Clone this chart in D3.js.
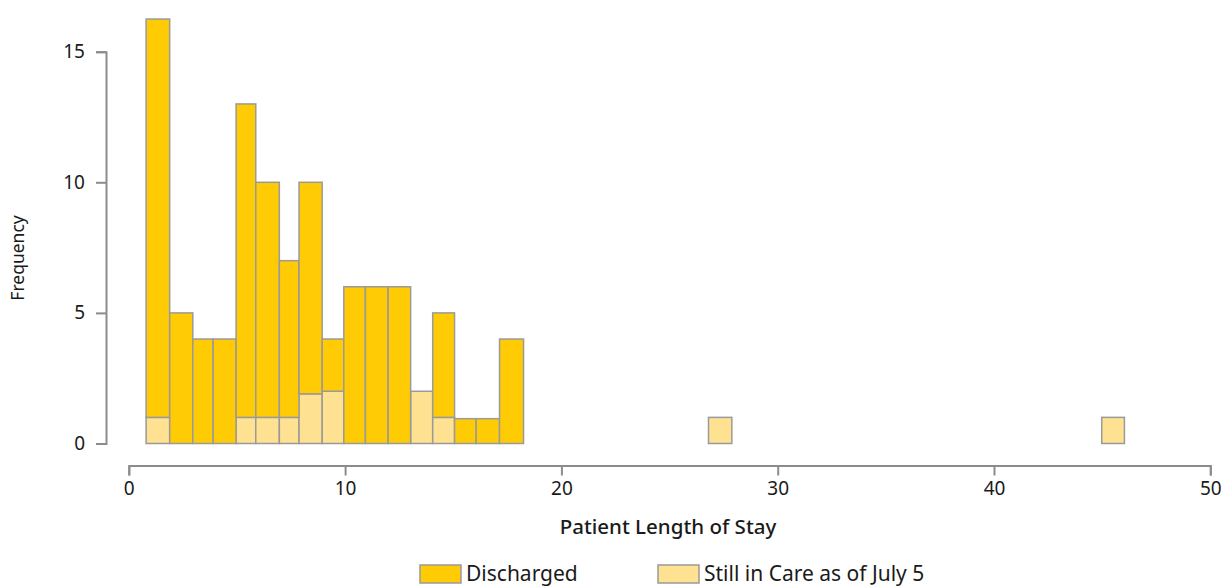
<!DOCTYPE html>
<html>
<head>
<meta charset="utf-8">
<script src="https://cdn.jsdelivr.net/npm/d3@7"></script>
<style>
  body { margin: 0; background: #fff; }
  svg { display: block; }
  text { font-family: "Noto Sans", sans-serif; fill: #1a1a1a; }
</style>
</head>
<body>
<svg id="chart" width="1221" height="588"></svg>
<script>
// Bin edges (days)
const binStart = [0.80, 1.89, 2.96, 3.90, 4.96, 5.87, 6.96, 7.87, 8.94, 9.94, 10.94, 11.99, 13.03, 14.05, 15.06, 16.06, 17.14, 26.80, 44.98];
const binEnd   = [1.89, 2.96, 3.90, 4.96, 5.87, 6.96, 7.87, 8.94, 9.94, 10.94, 11.99, 13.03, 14.05, 15.06, 16.06, 17.14, 18.25, 27.88, 46.03];
const stillInCare = [1, 0, 0, 0, 1, 1, 1, 1.9, 2, 0, 0, 0, 2, 1, 0, 0, 0, 1, 1];
const discharged  = [15.25, 5, 4, 4, 12, 9, 6, 8.1, 2, 6, 6, 6, 0, 4, 0.95, 0.95, 4, 0, 0];
const xTicks = [0, 10, 20, 30, 40, 50];
const yTicks = [0, 5, 10, 15];
const seriesNames = ["Discharged", "Still in Care as of July 5"];
const colors = ["#fecb05", "#fee292"];

const svg = d3.select("#chart");
const x = d3.scaleLinear().domain([0, 50]).range([128.8, 1210.3]);
const y = d3.scaleLinear().domain([0, 15]).range([443.5, 51.7]);

const bins = binStart.map((s, i) => ({x0: s, x1: binEnd[i], still: stillInCare[i], dis: discharged[i]}));

const g = svg.append("g");
// Still in care (bottom)
g.selectAll("rect.still").data(bins.filter(d => d.still > 0)).join("rect")
  .attr("class", "still")
  .attr("x", d => x(d.x0)).attr("width", d => x(d.x1) - x(d.x0))
  .attr("y", d => y(d.still)).attr("height", d => y(0) - y(d.still))
  .attr("fill", colors[1]).attr("stroke", "#9a9a9a").attr("stroke-width", 1.5);
// Discharged (stacked on top)
g.selectAll("rect.dis").data(bins.filter(d => d.dis > 0)).join("rect")
  .attr("class", "dis")
  .attr("x", d => x(d.x0)).attr("width", d => x(d.x1) - x(d.x0))
  .attr("y", d => y(d.still + d.dis)).attr("height", d => y(d.still) - y(d.still + d.dis))
  .attr("fill", colors[0]).attr("stroke", "#9a9a9a").attr("stroke-width", 1.5);

// Axes
const axisColor = "#8c8c8c";
const xAxis = svg.append("g").attr("transform", "translate(0,465.5)")
  .call(d3.axisBottom(x).tickValues(xTicks).tickSize(10).tickSizeOuter(10).tickPadding(6));
const yAxis = svg.append("g").attr("transform", "translate(106,0)")
  .call(d3.axisLeft(y).tickValues(yTicks).tickSize(10).tickSizeOuter(10).tickPadding(11));
[xAxis, yAxis].forEach(a => {
  a.select(".domain").attr("stroke", axisColor).attr("stroke-width", 2);
  a.selectAll(".tick line").attr("stroke", axisColor).attr("stroke-width", 2);
  a.selectAll(".tick text").attr("font-family", "Noto Sans").attr("font-size", 19).attr("fill", "#1a1a1a");
});

// Axis titles
svg.append("text").attr("x", 668).attr("y", 534).attr("text-anchor", "middle")
  .attr("font-size", 20.5).attr("font-weight", 500).text("Patient Length of Stay");
svg.append("text").attr("transform", "translate(24,258) rotate(-90)").attr("text-anchor", "middle")
  .attr("font-size", 17.5).text("Frequency");

// Legend
const legendX = [420, 658];
const lg = svg.append("g");
seriesNames.forEach((name, i) => {
  lg.append("rect").attr("x", legendX[i]).attr("y", 565).attr("width", 41).attr("height", 18)
    .attr("fill", colors[i]).attr("stroke", "#9a9a9a").attr("stroke-width", 1.5);
  lg.append("text").attr("x", legendX[i] + 46).attr("y", 581).attr("font-size", 21).text(name);
});
</script>
</body>
</html>
